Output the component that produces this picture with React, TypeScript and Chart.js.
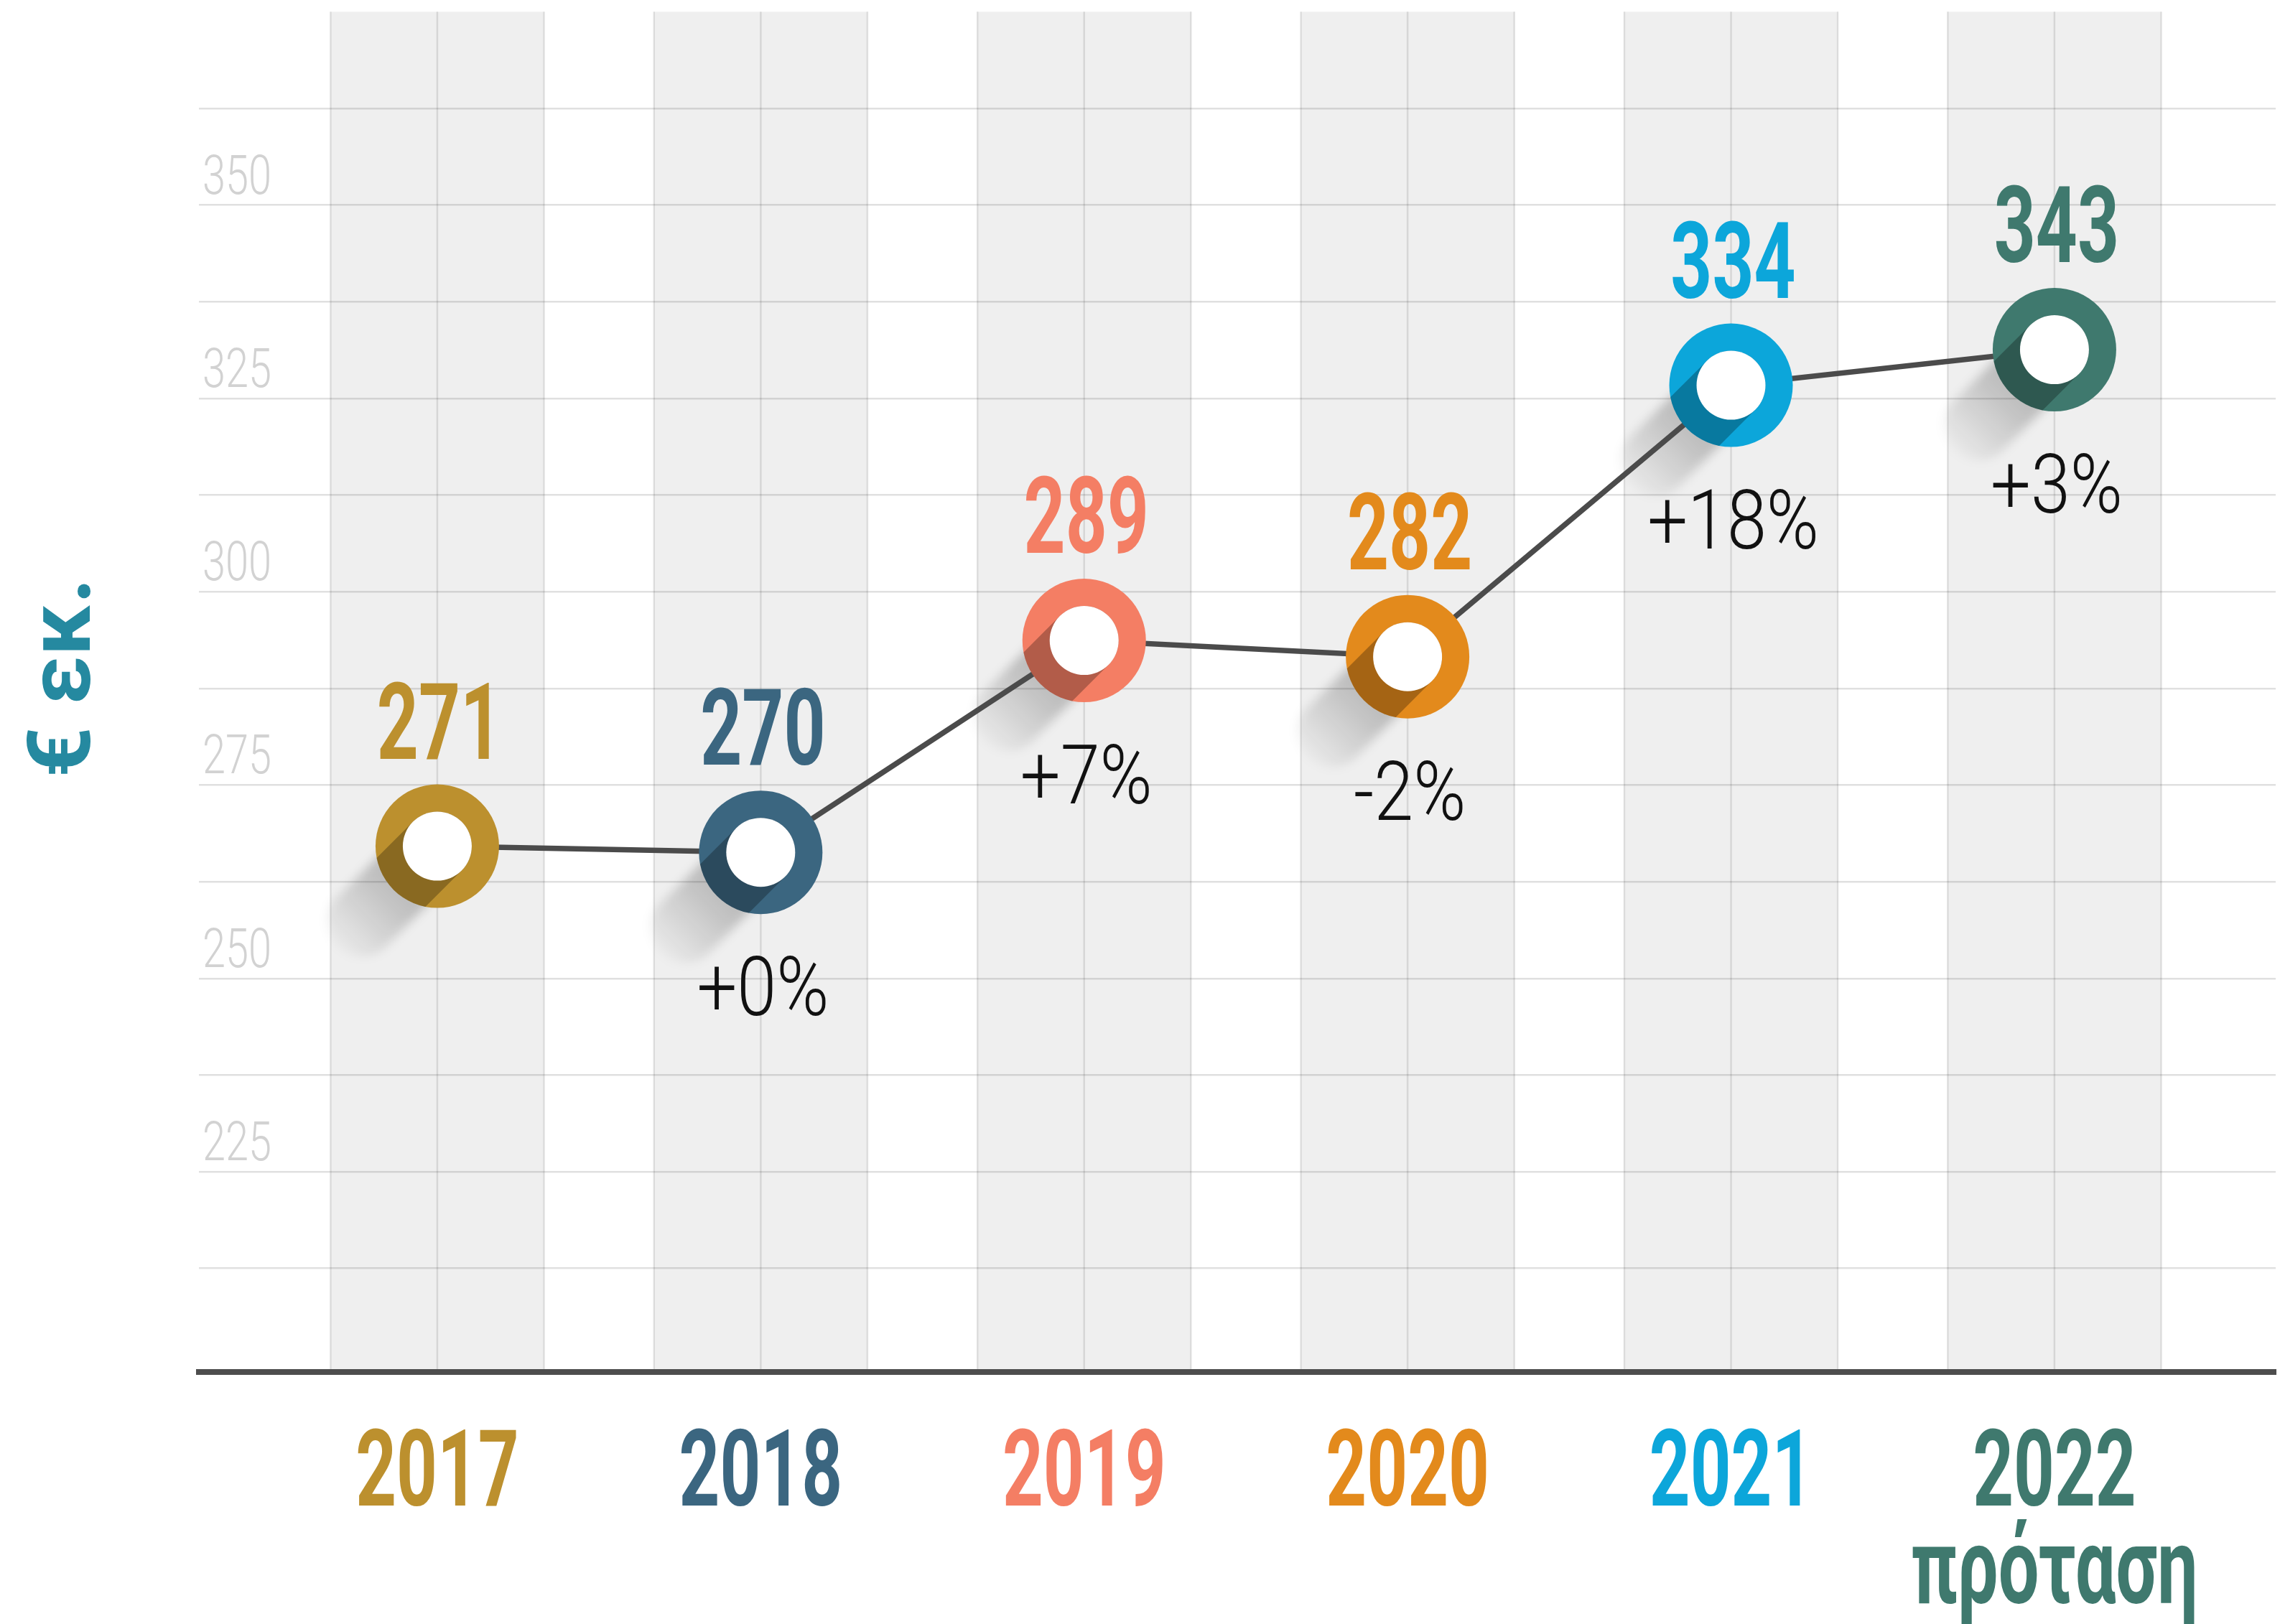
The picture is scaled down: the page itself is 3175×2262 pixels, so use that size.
import React, { useEffect, useRef } from 'react';
import { Chart, registerables } from 'chart.js';

Chart.register(...registerables);

// ---- data ----
const categories = ['2017', '2018', '2019', '2020', '2021', '2022'];
const categorySubLabels = ['', '', '', '', '', 'πρόταση'];
const values = [271, 270, 289, 282, 334, 343];
// height at which each marker sits in the picture, read against its y axis
const markerLevels = [267.1, 266.3, 293.7, 291.6, 326.7, 331.3];
const changes = ['', '+0%', '+7%', '-2%', '+18%', '+3%'];
const colors = ['#bc902e', '#3b6680', '#f47e64', '#e38a1c', '#0ca6da', '#3f796e'];
const yTickLabels = [225, 250, 275, 300, 325, 350];
const gridLevels = [212.5, 225, 237.5, 250, 262.5, 275, 287.5, 300, 312.5, 325, 337.5, 350, 362.5];
const yTitle = '€ εκ.';

const R_OUT = 86;
const R_IN = 48;

function drawText(
  ctx: CanvasRenderingContext2D,
  text: string,
  x: number,
  y: number,
  font: string,
  color: string,
  sx: number,
  align: CanvasTextAlign = 'center'
) {
  ctx.save();
  ctx.translate(x, y);
  ctx.scale(sx, 1);
  ctx.font = font;
  ctx.fillStyle = color;
  ctx.textAlign = align;
  ctx.textBaseline = 'alphabetic';
  ctx.fillText(text, 0, 0);
  ctx.restore();
}

// capsule going down-left at 45 degrees
function capsulePath(ctx: CanvasRenderingContext2D, cx: number, cy: number, L: number, R: number) {
  const ex = cx - L;
  const ey = cy + L;
  const k = R / Math.SQRT2;
  ctx.beginPath();
  ctx.moveTo(cx + k, cy + k);
  ctx.lineTo(ex + k, ey + k);
  ctx.arc(ex, ey, R, Math.PI / 4, (Math.PI * 5) / 4, false);
  ctx.lineTo(cx - k, cy - k);
  ctx.arc(cx, cy, R, (Math.PI * 5) / 4, (Math.PI * 9) / 4, false);
  ctx.closePath();
}

const infographic = {
  id: 'infographic',
  beforeDraw(chart: any) {
    const { ctx, chartArea } = chart;
    const x = chart.scales.x;
    const y = chart.scales.y;
    const top = y.getPixelForValue(375);
    const bottom = chartArea.bottom;
    ctx.save();
    categories.forEach((_, i) => {
      const l = x.getPixelForValue(i - 0.33);
      const r = x.getPixelForValue(i + 0.33);
      const c = x.getPixelForValue(i);
      ctx.fillStyle = '#efefef';
      ctx.fillRect(l, top, r - l, bottom - top);
      ctx.strokeStyle = 'rgba(0,0,0,0.1)';
      ctx.lineWidth = 2.5;
      [l, c, r].forEach((xx) => {
        ctx.beginPath();
        ctx.moveTo(xx, top);
        ctx.lineTo(xx, bottom);
        ctx.stroke();
      });
    });
    ctx.restore();
  },
  beforeDatasetsDraw(chart: any) {
    const { ctx } = chart;
    const pts = chart.getDatasetMeta(0).data;
    pts.forEach((p: any) => {
      const cx = p.x;
      const cy = p.y;
      ctx.save();
      ctx.filter = 'blur(7px)';
      const L = 106;
      const g = ctx.createLinearGradient(cx, cy, cx - 148, cy + 148);
      g.addColorStop(0, 'rgba(0,0,0,0.24)');
      g.addColorStop(0.42, 'rgba(0,0,0,0.2)');
      g.addColorStop(1, 'rgba(0,0,0,0)');
      capsulePath(ctx, cx, cy, L, R_IN);
      ctx.fillStyle = g;
      ctx.fill();
      ctx.restore();
    });
  },
  afterDatasetsDraw(chart: any) {
    const { ctx } = chart;
    const pts = chart.getDatasetMeta(0).data;
    pts.forEach((p: any, i: number) => {
      const cx = p.x;
      const cy = p.y;
      ctx.save();
      ctx.beginPath();
      ctx.arc(cx, cy, R_OUT, 0, Math.PI * 2);
      ctx.fillStyle = colors[i];
      ctx.fill();
      ctx.clip();
      capsulePath(ctx, cx, cy, 260, R_IN);
      ctx.fillStyle = 'rgba(0,0,0,0.27)';
      ctx.fill();
      ctx.restore();
      ctx.beginPath();
      ctx.arc(cx, cy, R_IN, 0, Math.PI * 2);
      ctx.fillStyle = '#ffffff';
      ctx.fill();

      drawText(ctx, String(values[i]), cx + 3, cy - 122, '700 149px Roboto', colors[i], 0.68);
      if (changes[i]) {
        drawText(ctx, changes[i], cx + 3, cy + 227, '300 115px Roboto', '#111111', 0.86);
      }
    });
  },
  afterDraw(chart: any) {
    const { ctx, chartArea } = chart;
    const x = chart.scales.x;
    const y = chart.scales.y;
    // y tick labels, sitting just above their grid lines
    yTickLabels.forEach((v) => {
      const yy = y.getPixelForValue(v);
      drawText(ctx, String(v), chartArea.left + 5, yy - 16, '300 76px Roboto', '#d2d2d2', 0.76, 'left');
    });
    // x category labels
    categories.forEach((c, i) => {
      const xx = x.getPixelForValue(i);
      drawText(ctx, c, xx, chartArea.bottom + 186, '700 148px Roboto', colors[i], 0.67);
      if (categorySubLabels[i]) {
        drawText(ctx, categorySubLabels[i], xx, chartArea.bottom + 322, '700 148px Roboto', colors[i], 0.68);
      }
    });
    // y title
    ctx.save();
    ctx.translate(chartArea.left - 152, (chartArea.top + chartArea.bottom) / 2 - 87);
    ctx.rotate(-Math.PI / 2);
    ctx.font = '700 123px Roboto';
    ctx.fillStyle = '#2589a0';
    ctx.textAlign = 'center';
    ctx.textBaseline = 'alphabetic';
    ctx.fillText(yTitle, 0, 0);
    ctx.restore();
  },
};

export default function App() {
  const ref = useRef<HTMLCanvasElement>(null);

  useEffect(() => {
    document.body.style.margin = '0';
    const canvas = ref.current;
    if (!canvas) return;
    const chart = new Chart(canvas, {
      type: 'line',
      data: {
        datasets: [
          {
            label: 'Προϋπολογισμός',
            data: markerLevels.map((v, i) => ({ x: i, y: v })),
            borderColor: '#4b4b4b',
            borderWidth: 7.5,
            pointRadius: 0,
            pointHoverRadius: 0,
            fill: false,
            tension: 0,
          },
        ],
      },
      options: {
        animation: false,
        responsive: true,
        maintainAspectRatio: false,
        layout: { padding: { left: 277, right: 6, top: 151, bottom: 351 } },
        plugins: {
          legend: { display: false },
          tooltip: { enabled: false },
          title: { display: false },
        },
        scales: {
          x: {
            type: 'linear',
            min: -0.737,
            max: 5.684,
            grid: { display: false, drawTicks: false },
            border: { display: true, color: '#4d4d4d', width: 8 },
            ticks: { display: false },
            afterBuildTicks: (s: any) => {
              s.ticks = categories.map((_, i) => ({ value: i }));
            },
          },
          y: {
            type: 'linear',
            min: 199.1,
            max: 362.5,
            grid: { display: true, color: 'rgba(0,0,0,0.12)', lineWidth: 2.5, drawTicks: false },
            border: { display: false },
            ticks: { display: false },
            afterBuildTicks: (s: any) => {
              s.ticks = gridLevels.map((v) => ({ value: v }));
            },
          },
        },
      },
      plugins: [infographic],
    });

    const fonts = ['700 149px Roboto', '300 115px Roboto'];
    Promise.all(fonts.map((f) => (document as any).fonts.load(f)))
      .then(() => chart.draw())
      .catch(() => {});

    return () => chart.destroy();
  }, []);

  return (
    <div style={{ width: 3175, height: 2262, position: 'relative' }}>
      <canvas ref={ref} style={{ display: 'block' }} />
    </div>
  );
}
